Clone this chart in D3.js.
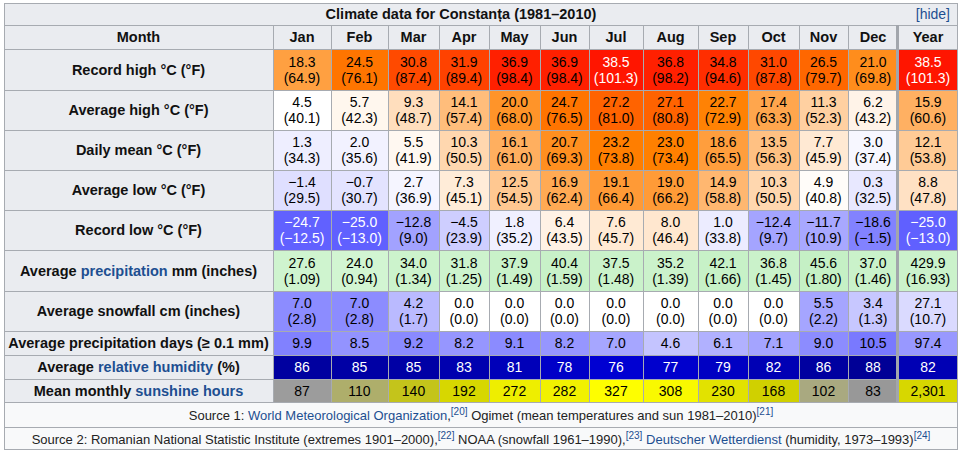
<!DOCTYPE html>
<html><head><meta charset="utf-8">
<script src="https://cdn.jsdelivr.net/npm/d3@7"></script>
<style>body{margin:0;background:#fff}svg{display:block}</style>
</head><body>
<svg id="chart" width="964" height="456"></svg>
<script>
// ---------- DATA ----------
const title = "Climate data for Constanța (1981–2010)";
const months = ["Jan","Feb","Mar","Apr","May","Jun","Jul","Aug","Sep","Oct","Nov","Dec","Year"];
const recordHighC = [18.3,24.5,30.8,31.9,36.9,36.9,38.5,36.8,34.8,31.0,26.5,21.0,38.5];
const recordHighF = [64.9,76.1,87.4,89.4,98.4,98.4,101.3,98.2,94.6,87.8,79.7,69.8,101.3];
const avgHighC = [4.5,5.7,9.3,14.1,20.0,24.7,27.2,27.1,22.7,17.4,11.3,6.2,15.9];
const avgHighF = [40.1,42.3,48.7,57.4,68.0,76.5,81.0,80.8,72.9,63.3,52.3,43.2,60.6];
const meanC = [1.3,2.0,5.5,10.3,16.1,20.7,23.2,23.0,18.6,13.5,7.7,3.0,12.1];
const meanF = [34.3,35.6,41.9,50.5,61.0,69.3,73.8,73.4,65.5,56.3,45.9,37.4,53.8];
const avgLowC = [-1.4,-0.7,2.7,7.3,12.5,16.9,19.1,19.0,14.9,10.3,4.9,0.3,8.8];
const avgLowF = [29.5,30.7,36.9,45.1,54.5,62.4,66.4,66.2,58.8,50.5,40.8,32.5,47.8];
const recordLowC = [-24.7,-25.0,-12.8,-4.5,1.8,6.4,7.6,8.0,1.0,-12.4,-11.7,-18.6,-25.0];
const recordLowF = [-12.5,-13.0,9.0,23.9,35.2,43.5,45.7,46.4,33.8,9.7,10.9,-1.5,-13.0];
const precipMm = [27.6,24.0,34.0,31.8,37.9,40.4,37.5,35.2,42.1,36.8,45.6,37.0,429.9];
const precipIn = [1.09,0.94,1.34,1.25,1.49,1.59,1.48,1.39,1.66,1.45,1.80,1.46,16.93];
const snowCm = [7.0,7.0,4.2,0.0,0.0,0.0,0.0,0.0,0.0,0.0,5.5,3.4,27.1];
const snowIn = [2.8,2.8,1.7,0.0,0.0,0.0,0.0,0.0,0.0,0.0,2.2,1.3,10.7];
const precipDays = [9.9,8.5,9.2,8.2,9.1,8.2,7.0,4.6,6.1,7.1,9.0,10.5,97.4];
const humidity = [86,85,85,83,81,78,76,77,79,82,86,88,82];
const sunshine = [87,110,140,192,272,282,327,308,230,168,102,83,2301];

const source1 = [
  {t:"Source 1: "},{t:"World Meteorological Organization",link:1},{t:","},{t:"[20]",sup:1,link:1},
  {t:" Ogimet (mean temperatures and sun 1981–2010)"},{t:"[21]",sup:1,link:1}];
const source2 = [
  {t:"Source 2: Romanian National Statistic Institute (extremes 1901–2000),"},{t:"[22]",sup:1,link:1},
  {t:" NOAA (snowfall 1961–1990),"},{t:"[23]",sup:1,link:1},{t:" "},
  {t:"Deutscher Wetterdienst",link:1},{t:" (humidity, 1973–1993)"},{t:"[24]",sup:1,link:1}];

// ---------- LAYOUT ----------
const FONT = "'Liberation Sans', Arial, sans-serif";
const LINK = "#1d4f91";
const GRID = "#a7abb1";
const HEAD_BG = "#eaecf0";
const BOLD_SIZE = 14.5, VALUE_SIZE = 14, SRC_SIZE = 13;
const tableLeft = 4, labelRight = 273, tableRight = 958;
const colWidths = [58,57,51,50,51,49,54,55,50,51,49,50,60];
const titleTop = 3, headerTop = 25, bodyTop = 49;
const rowHeights = [41,40,40,40,40,41,40,24,24,23];
const sourceHeights = [25,23];

const colStarts = d3.cumsum([0, ...colWidths.slice(0,-1)]).map(d => d + labelRight);
const xCol = d3.scaleOrdinal().domain(months).range(colStarts);
const wCol = d3.scaleOrdinal().domain(months).range(colWidths);

// ---------- COLOUR SCALES ----------
const tR = d3.scaleLinear().domain([-42.75, 4.5]).range([0,255]).clamp(true);
const tG = d3.scaleLinear().domain([-42.75, 4.5, 41.5]).range([0,255,0]).clamp(true);
const tB = d3.scaleLinear().domain([4.5, 23]).range([255,0]).clamp(true);
const tempColor = v => d3.rgb(tR(v), tG(v), tB(v)).formatHex();
const tempText = v => (v >= 37.8 || v < -23.3) ? "#ffffff" : "#000000";

const precipScale = d3.scaleLinear().domain([0,20,50,100]).range(["#ffffff","#d4f6d4","#c2efc2","#8fdc8f"]).clamp(true);
const snowS = d3.scaleLinear().domain([0,15.5]).range([255,0]).clamp(true);
const snowColor = v => d3.rgb(snowS(v), snowS(v), 255).formatHex();
const daysS = d3.scaleLinear().domain([0,20]).range([255,0]).clamp(true);
const daysColor = v => d3.rgb(daysS(v), daysS(v), 255).formatHex();
const humB = d3.scaleLinear().domain([70,90]).range([240,140]).clamp(true);
const humColor = v => d3.rgb(0,0,humB(v)).formatHex();
const sunRG = d3.scaleLinear().domain([40,90,150,330]).range([100,160,203,255]).clamp(true);
const sunB = d3.scaleLinear().domain([0,90,150]).range([0,160,0]).clamp(true);
const sunColor = v => { const b = v < 90 ? sunRG(v) : sunB(v); return d3.rgb(sunRG(v), sunRG(v), b).formatHex(); };

const f1 = d3.format(".1f"), f2 = d3.format(".2f"), fi = d3.format("d"), fc = d3.format(",");
const isYear = i => i === months.length - 1;

const rows = [
  {label:[{t:"Record high °C (°F)"}], a:recordHighC, b:recordHighF, fa:f1, fb:f1, color:(v)=>tempColor(v), text:tempText},
  {label:[{t:"Average high °C (°F)"}], a:avgHighC, b:avgHighF, fa:f1, fb:f1, color:(v)=>tempColor(v), text:tempText},
  {label:[{t:"Daily mean °C (°F)"}], a:meanC, b:meanF, fa:f1, fb:f1, color:(v)=>tempColor(v), text:tempText},
  {label:[{t:"Average low °C (°F)"}], a:avgLowC, b:avgLowF, fa:f1, fb:f1, color:(v)=>tempColor(v), text:tempText},
  {label:[{t:"Record low °C (°F)"}], a:recordLowC, b:recordLowF, fa:f1, fb:f1, color:(v)=>tempColor(v), text:tempText},
  {label:[{t:"Average "},{t:"precipitation",link:1},{t:" mm (inches)"}], a:precipMm, b:precipIn, fa:f1, fb:f2,
    color:(v,i)=>precipScale(isYear(i)? v/12 : v), text:()=>"#000"},
  {label:[{t:"Average snowfall cm (inches)"}], a:snowCm, b:snowIn, fa:f1, fb:f1,
    color:(v,i)=>snowColor(isYear(i)? v/12 : v), text:()=>"#000"},
  {label:[{t:"Average precipitation days (≥ 0.1 mm)"}], a:precipDays, fa:f1,
    color:(v,i)=>daysColor(isYear(i)? v/12 : v), text:()=>"#000"},
  {label:[{t:"Average "},{t:"relative humidity",link:1},{t:" (%)"}], a:humidity, fa:fi,
    color:(v)=>humColor(v), text:()=>"#fff"},
  {label:[{t:"Mean monthly "},{t:"sunshine hours",link:1}], a:sunshine, fa:fc,
    color:(v,i)=>sunColor(isYear(i)? v/12 : v), text:()=>"#000"}
];

const rowTops = d3.cumsum([0, ...rowHeights.slice(0,-1)]).map(d => d + bodyTop);
const bodyBottom = bodyTop + d3.sum(rowHeights);
const srcTops = [bodyBottom, bodyBottom + sourceHeights[0]];
const tableBottom = bodyBottom + d3.sum(sourceHeights);

// ---------- DRAW ----------
const svg = d3.select("#chart");
svg.append("rect").attr("width",964).attr("height",456).attr("fill","#fff");

function rich(sel, parts, opts){
  const t = sel.append("text").attr("x",opts.x).attr("y",opts.y)
    .attr("text-anchor",opts.anchor||"middle")
    .attr("font-family",FONT).attr("font-size",opts.size||VALUE_SIZE)
    .attr("font-weight",opts.weight||"normal").attr("fill",opts.fill||"#000");
  let raised = false;
  parts.forEach(p => {
    const ts = t.append("tspan").text(p.t);
    if (p.link) ts.attr("fill", LINK);
    if (p.sup && !raised){ ts.attr("dy",-5).attr("font-size",10); raised = true; }
    else if (p.sup) { ts.attr("font-size",10); }
    else if (raised){ ts.attr("dy",5); raised = false; }
  });
  return t;
}

// backgrounds
svg.append("rect").attr("x",tableLeft).attr("y",titleTop).attr("width",tableRight-tableLeft)
  .attr("height",tableBottom-titleTop).attr("fill","#f8f9fa");
svg.append("rect").attr("x",tableLeft).attr("y",titleTop).attr("width",tableRight-tableLeft)
  .attr("height",bodyBottom-titleTop).attr("fill",HEAD_BG);

// cells
rows.forEach((r, ri) => {
  const g = svg.append("g");
  const y0 = rowTops[ri], h = rowHeights[ri];
  months.forEach((m, i) => {
    const v = r.a[i];
    g.append("rect").attr("x",xCol(m)).attr("y",y0).attr("width",wCol(m)).attr("height",h)
      .attr("fill", r.color(v,i));
    const cx = xCol(m) + wCol(m)/2, cy = y0 + h/2;
    const txt = g.append("text").attr("text-anchor","middle").attr("font-family",FONT)
      .attr("font-size",VALUE_SIZE).attr("fill", r.text(v,i));
    if (r.b){
      txt.append("tspan").attr("x",cx).attr("y",cy-8).attr("dy","0.36em").text(r.fa(v));
      txt.append("tspan").attr("x",cx).attr("y",cy+8).attr("dy","0.36em").text("(" + r.fb(r.b[i]) + ")");
    } else {
      txt.attr("x",cx).attr("y",cy).attr("dy","0.36em").text(r.fa(v));
    }
  });
  rich(svg, r.label, {x:(tableLeft+labelRight)/2, y:y0 + h/2 + 5, weight:"bold", size:BOLD_SIZE, fill:"#111"});
});

// header
rich(svg, [{t:"Month"}], {x:(tableLeft+labelRight)/2, y:headerTop+12+5, weight:"bold", size:BOLD_SIZE, fill:"#111"});
months.forEach(m => {
  rich(svg, [{t:m}], {x:xCol(m)+wCol(m)/2, y:headerTop+12+5, weight:"bold", size:BOLD_SIZE, fill:"#111"});
});
// title
rich(svg, [{t:title}], {x:461, y:titleTop+11+5, weight:"bold", size:BOLD_SIZE, fill:"#111"});
rich(svg, [{t:"[hide]",link:1}], {x:950, y:titleTop+11+5, anchor:"end"});

// sources
rich(svg, source1, {x:(tableLeft+tableRight)/2, y:srcTops[0]+sourceHeights[0]/2+5, fill:"#222", size:SRC_SIZE});
rich(svg, source2, {x:(tableLeft+tableRight)/2, y:srcTops[1]+sourceHeights[1]/2+5, fill:"#222", size:SRC_SIZE});

// grid lines
const grid = svg.append("g").attr("stroke",GRID).attr("stroke-width",1).attr("shape-rendering","crispEdges");
const hLines = [headerTop, bodyTop, ...rowTops.slice(1), bodyBottom, srcTops[1]];
hLines.forEach(y => grid.append("line").attr("x1",tableLeft).attr("x2",tableRight).attr("y1",y+0.5).attr("y2",y+0.5));
const vLines = [labelRight, ...colStarts.slice(1)];
vLines.forEach(x => grid.append("line").attr("x1",x+0.5).attr("x2",x+0.5).attr("y1",headerTop).attr("y2",bodyBottom));
// thick divider before Year
svg.append("rect").attr("x",xCol("Year")-2).attr("y",headerTop).attr("width",3)
  .attr("height",bodyBottom-headerTop).attr("fill","#a2a6ac");
// outer border
svg.append("rect").attr("x",tableLeft+0.5).attr("y",titleTop+0.5).attr("width",tableRight-tableLeft-1)
  .attr("height",tableBottom-titleTop-1).attr("fill","none").attr("stroke",GRID);
</script>
</body></html>
